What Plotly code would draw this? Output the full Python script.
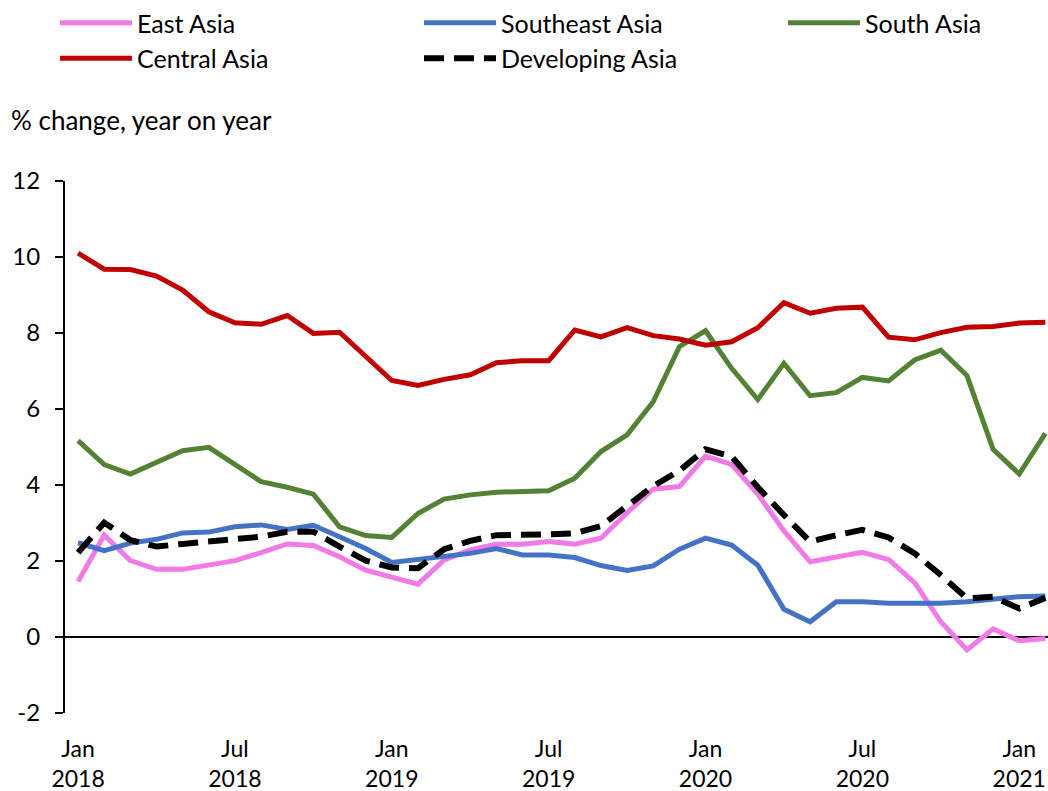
import plotly.graph_objects as go

# ---- data ----
month_names = ["Jan", "Feb", "Mar", "Apr", "May", "Jun", "Jul", "Aug", "Sep", "Oct", "Nov", "Dec"]
years = [2018, 2019, 2020, 2021]
months = [f"{m} {y}" for y in years for m in month_names][:38]

east_asia = [1.46, 2.68, 2.01, 1.78, 1.78, 1.89, 2.01, 2.22, 2.45, 2.41, 2.11, 1.76,
             1.59, 1.39, 2.03, 2.29, 2.44, 2.44, 2.51, 2.44, 2.60, 3.27, 3.89, 3.96,
             4.76, 4.54, 3.76, 2.79, 1.98, 2.11, 2.23, 2.04, 1.43, 0.40, -0.34, 0.21,
             -0.10, -0.04]
southeast_asia = [2.48, 2.27, 2.47, 2.57, 2.74, 2.76, 2.90, 2.95, 2.83, 2.94, 2.64, 2.33,
                  1.96, 2.03, 2.10, 2.20, 2.33, 2.16, 2.16, 2.09, 1.88, 1.75, 1.87, 2.31,
                  2.60, 2.42, 1.89, 0.73, 0.40, 0.93, 0.93, 0.89, 0.89, 0.89, 0.93, 0.99,
                  1.06, 1.08]
south_asia = [5.17, 4.54, 4.29, 4.59, 4.90, 4.99, 4.53, 4.09, 3.94, 3.76, 2.90, 2.67,
              2.62, 3.25, 3.63, 3.74, 3.81, 3.84, 3.85, 4.18, 4.88, 5.32, 6.19, 7.64,
              8.06, 7.07, 6.25, 7.20, 6.35, 6.43, 6.83, 6.74, 7.29, 7.55, 6.88, 4.94,
              4.29, 5.36]
central_asia = [10.10, 9.68, 9.67, 9.50, 9.13, 8.56, 8.27, 8.23, 8.46, 7.99, 8.02, 7.40,
                6.75, 6.62, 6.78, 6.90, 7.22, 7.27, 7.27, 8.08, 7.90, 8.14, 7.93, 7.84,
                7.68, 7.77, 8.14, 8.80, 8.52, 8.65, 8.68, 7.89, 7.82, 8.01, 8.15, 8.17,
                8.26, 8.28]
developing_asia = [2.22, 3.01, 2.55, 2.38, 2.45, 2.51, 2.55, 2.64, 2.77, 2.77, 2.38, 2.01,
                   1.83, 1.81, 2.31, 2.53, 2.68, 2.68, 2.70, 2.73, 2.92, 3.45, 3.97, 4.38,
                   4.94, 4.75, 3.94, 3.21, 2.51, 2.68, 2.82, 2.62, 2.20, 1.63, 1.02, 1.06,
                   0.75, 1.03]

tick_months = ["Jan 2018", "Jul 2018", "Jan 2019", "Jul 2019", "Jan 2020", "Jul 2020", "Jan 2021"]
tick_labels = ["Jan<br>2018", "Jul<br>2018", "Jan<br>2019", "Jul<br>2019", "Jan<br>2020", "Jul<br>2020", "Jan<br>2021"]
y_ticks = [-2, 0, 2, 4, 6, 8, 10, 12]
y_tick_labels = ["-2", "0", "2", "4", "6", "8", "10", "12"]

FONT = "Lato, Carlito, 'Open Sans', sans-serif"
FS = 25

# name, values, colour, dash, width, legend column
series = [
    ("East Asia", east_asia, "#F27AE6", "solid", 5, "legend"),
    ("Southeast Asia", southeast_asia, "#4472C4", "solid", 5, "legend2"),
    ("South Asia", south_asia, "#548235", "solid", 5, "legend3"),
    ("Central Asia", central_asia, "#C00000", "solid", 5, "legend"),
    ("Developing Asia", developing_asia, "#000000", "20px,10px", 6, "legend2"),
]

fig = go.Figure()
for name, vals, color, dash, w, leg in series:
    fig.add_trace(go.Scatter(
        x=months, y=vals, name=name, mode="lines", legend=leg, legendgroup=name,
        line=dict(color=color, width=w, dash=dash),
    ))


def legend_at(x_px):
    return dict(
        orientation="v", xref="container", yref="container",
        x=x_px / 1048, y=1 + 17 / 791, xanchor="left", yanchor="top",
        itemwidth=72, tracegroupgap=0,
        font=dict(family=FONT, size=FS, color="black"),
        traceorder="normal", bgcolor="rgba(0,0,0,0)", borderwidth=0,
    )


fig.update_layout(
    width=1048, height=791,
    margin=dict(l=65, r=0, t=181, b=78, autoexpand=False),
    paper_bgcolor="white", plot_bgcolor="white",
    font=dict(family=FONT, size=FS, color="black"),
    legend=legend_at(55),
    legend2=legend_at(419),
    legend3=legend_at(783),
    annotations=[dict(
        text="% change, year on year", xref="paper", yref="paper",
        x=(9 - 65) / 983, y=(713 - 120) / 532, xanchor="left", yanchor="middle",
        showarrow=False, font=dict(family=FONT, size=26, color="black"),
    )],
)

fig.update_xaxes(
    type="category", categoryorder="array", categoryarray=months,
    range=[-0.5, 37.1], showline=False, showgrid=False, zeroline=False,
    ticks="", tickvals=tick_months, ticktext=tick_labels, tickangle=0,
    ticklabelstandoff=20, automargin=False,
    tickfont=dict(family=FONT, size=23, color="black"),
)
fig.update_yaxes(
    range=[-2, 12], tickvals=y_ticks, ticktext=y_tick_labels, showgrid=False,
    showline=True, linecolor="black", linewidth=2,
    ticks="outside", ticklen=8, tickwidth=2, tickcolor="black",
    zeroline=True, zerolinecolor="black", zerolinewidth=2,
    ticklabelstandoff=10, automargin=False,
    tickfont=dict(family=FONT, size=24, color="black"),
)

fig.write_html("out.html", config={"displayModeBar": False},
               post_script="document.body.style.margin='0';")
